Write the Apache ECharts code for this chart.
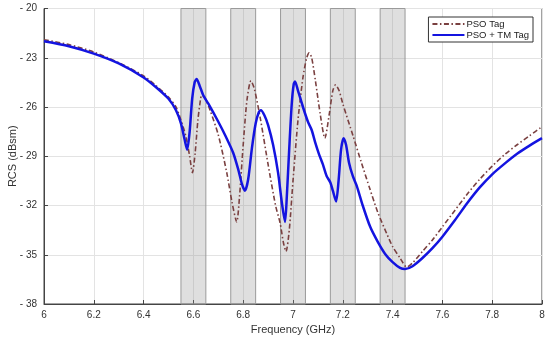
<!DOCTYPE html>
<html><head><meta charset="utf-8">
<script src="https://cdn.jsdelivr.net/npm/echarts@6/dist/echarts.min.js"></script>
<style>html,body{margin:0;padding:0;background:#fff}#c{width:550px;height:341px}</style>
</head><body><div id="c"></div>
<script>
const seriesNames = ['PSO Tag', 'PSO + TM Tag'];
const bands = [[6.55, 6.65], [6.75, 6.85], [6.95, 7.05], [7.15, 7.25], [7.35, 7.45]];
const yTicks = [-38, -35, -32, -29, -26, -23, -20];
const xTicks = [6, 6.2, 6.4, 6.6, 6.8, 7, 7.2, 7.4, 7.6, 7.8, 8];

const psoFreq = [6.00,6.10,6.20,6.30,6.40,6.45,6.50,6.53,6.55,6.57,6.585,6.596,6.607,6.618,6.628,6.633,6.645,6.667,6.70,6.734,6.755,6.774,6.785,6.80,6.815,6.831,6.845,6.87,6.90,6.93,6.948,6.962,6.972,6.985,7.00,7.02,7.04,7.055,7.065,7.075,7.09,7.11,7.128,7.145,7.16,7.171,7.185,7.20,7.242,7.275,7.309,7.34,7.376,7.40,7.43,7.457,7.48,7.52,7.56,7.60,7.65,7.70,7.75,7.80,7.85,7.90,7.95,8.00];
const psoRcs = [-21.9,-22.2,-22.65,-23.3,-24.1,-24.7,-25.4,-26.0,-26.8,-27.8,-29.0,-30.0,-28.8,-26.8,-25.6,-25.3,-25.4,-26.2,-27.7,-30.0,-31.8,-33.0,-31.5,-28.3,-25.6,-24.4,-24.9,-26.8,-29.5,-32.0,-33.05,-34.3,-34.8,-33.5,-30.5,-26.8,-24.2,-23.0,-22.7,-23.0,-24.4,-26.5,-27.9,-26.5,-25.0,-24.65,-25.0,-25.8,-27.8,-29.4,-31.0,-32.4,-33.7,-34.5,-35.2,-35.75,-35.5,-34.8,-34.1,-33.3,-32.3,-31.3,-30.4,-29.6,-28.9,-28.3,-27.75,-27.2];

const tmFreq = [6.00,6.10,6.20,6.30,6.40,6.45,6.50,6.53,6.55,6.565,6.575,6.585,6.595,6.605,6.613,6.625,6.64,6.66,6.70,6.73,6.76,6.78,6.795,6.807,6.82,6.835,6.85,6.863,6.871,6.885,6.90,6.92,6.94,6.955,6.968,6.975,6.985,6.995,7.003,7.008,7.02,7.04,7.06,7.075,7.09,7.105,7.12,7.135,7.15,7.16,7.173,7.183,7.193,7.203,7.213,7.225,7.24,7.256,7.28,7.31,7.34,7.37,7.40,7.43,7.45,7.48,7.52,7.56,7.60,7.65,7.70,7.75,7.80,7.85,7.90,7.95,8.00];
const tmRcs = [-22.0,-22.3,-22.75,-23.35,-24.2,-24.8,-25.5,-26.2,-27.0,-28.0,-28.6,-27.5,-25.5,-24.5,-24.3,-24.7,-25.3,-25.8,-26.9,-27.8,-28.8,-29.8,-30.7,-31.1,-30.4,-28.5,-27.0,-26.3,-26.2,-26.5,-27.1,-28.3,-30.0,-31.8,-33.0,-31.5,-28.5,-25.8,-24.6,-24.45,-25.0,-26.0,-26.9,-27.4,-28.2,-28.9,-29.5,-30.2,-30.6,-31.1,-31.75,-30.5,-28.6,-27.9,-28.3,-29.4,-30.2,-30.8,-32.0,-33.3,-34.2,-34.95,-35.45,-35.8,-35.87,-35.7,-35.2,-34.6,-33.9,-32.9,-31.85,-30.9,-30.1,-29.45,-28.85,-28.35,-27.9];

const zip = (a, b) => a.map((v, i) => [v, b[i]]);
const font = 'Liberation Sans, Arial, sans-serif';
const chart = echarts.init(document.getElementById('c'), null, {renderer: 'canvas'});
chart.setOption({
  animation: false,
  backgroundColor: '#fff',
  grid: {left: 44, right: 8, top: 8.5, bottom: 37, containLabel: false, outerBoundsMode: 'none',
    show: true, borderColor: '#444', borderWidth: 1, backgroundColor: 'transparent'},
  legend: {
    right: 17, top: 17, orient: 'vertical', itemGap: 1, itemWidth: 32, itemHeight: 10,
    padding: [2, 4, 2, 3], borderColor: '#333', borderWidth: 1, backgroundColor: '#fff',
    itemStyle: {opacity: 0},
    textStyle: {fontFamily: font, fontSize: 9.5, color: '#222', padding: [0, 0, 0, -3]},
    data: seriesNames
  },
  xAxis: {
    type: 'value', min: xTicks[0], max: xTicks[xTicks.length - 1], interval: 0.2,
    name: 'Frequency (GHz)', nameLocation: 'middle', nameGap: 20, nameMoveOverlap: false,
    nameTextStyle: {fontFamily: font, fontSize: 11, color: '#333'},
    axisLine: {show: true, lineStyle: {color: '#444'}},
    axisTick: {show: true, inside: true, length: 4, lineStyle: {color: '#444'}},
    axisLabel: {fontFamily: font, fontSize: 10, color: '#333', margin: 6},
    splitLine: {show: true, lineStyle: {color: '#e3e3e3', width: 1}}
  },
  yAxis: {
    type: 'value', min: yTicks[0], max: yTicks[yTicks.length - 1], interval: 3,
    name: 'RCS (dBsm)', nameLocation: 'middle', nameGap: 26, nameMoveOverlap: false,
    nameTextStyle: {fontFamily: font, fontSize: 11, color: '#333'},
    axisLine: {show: true, lineStyle: {color: '#444'}},
    axisTick: {show: true, inside: true, length: 4, lineStyle: {color: '#444'}},
    axisLabel: {fontFamily: font, fontSize: 10, color: '#333', margin: 7,
      formatter: v => (v < 0 ? '- ' : '') + Math.abs(v)},
    splitLine: {show: true, lineStyle: {color: '#e3e3e3', width: 1}}
  },
  series: [
    {
      name: 'bands', type: 'line', data: [], z: 1, silent: true,
      markArea: {
        silent: true,
        itemStyle: {color: 'rgba(140,140,140,0.28)', borderColor: '#9a9a9a', borderWidth: 1},
        data: bands.map(b => [{xAxis: b[0]}, {xAxis: b[1]}])
      }
    },
    {
      name: seriesNames[0], type: 'line', data: zip(psoFreq, psoRcs), smooth: 0.25,
      symbol: 'none', z: 3,
      lineStyle: {color: '#7a4040', width: 1.6, type: [5, 2.5, 1.5, 2.5]},
      itemStyle: {color: '#7a4040'}
    },
    {
      name: seriesNames[1], type: 'line', data: zip(tmFreq, tmRcs), smooth: 0.25,
      symbol: 'none', z: 4,
      lineStyle: {color: '#1414e0', width: 2.5},
      itemStyle: {color: '#1414e0'}
    }
  ]
});
</script></body></html>
